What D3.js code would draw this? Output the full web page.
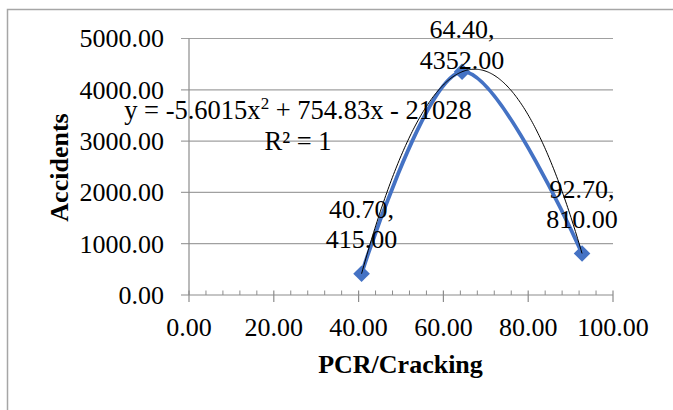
<!DOCTYPE html>
<html><head><meta charset="utf-8">
<script src="https://cdn.jsdelivr.net/npm/d3@7"></script>
<style>html,body{margin:0;padding:0;background:#fff;overflow:hidden}svg{display:block}</style>
</head><body>
<svg id="c" width="673" height="410"></svg>
<script>
const pcr = [40.7, 64.4, 92.7];
const accidents = [415, 4352, 810];
const pointLabels = [["40.70,", "415.00"], ["64.40,", "4352.00"], ["92.70,", "810.00"]];
const xTicks = [0, 20, 40, 60, 80, 100];
const yTicks = [0, 1000, 2000, 3000, 4000, 5000];
const trendCoef = [-5.6015, 754.83, -21028]; // a, b, c
const eqText = ["y = -5.6015x", "2", " + 754.83x - 21028"];
const r2Text = "R² = 1";
const xTitle = "PCR/Cracking";
const yTitle = "Accidents";

const svg = d3.select("#c");
const FONT = "'Liberation Serif','Times New Roman',serif";
const x = d3.scaleLinear().domain([0, 100]).range([189, 613]);
const y = d3.scaleLinear().domain([0, 5000]).range([295, 38.5]);
const blue = "#4472C4";

// outer chart frame
svg.append("rect").attr("x", 7.5).attr("y", 9.5).attr("width", 700).attr("height", 450)
  .attr("fill", "none").attr("stroke", "#a6a6a6").attr("stroke-width", 1.5);

// gridlines (with y-axis outside ticks)
svg.append("g").selectAll("line").data(yTicks.filter(d => d > 0)).join("line")
  .attr("x1", 181).attr("x2", x(100)).attr("y1", d => y(d)).attr("y2", d => y(d))
  .attr("stroke", "#a0a0a0").attr("stroke-width", 1.2);

// y axis line
svg.append("line").attr("x1", x(0)).attr("x2", x(0)).attr("y1", y(5000)).attr("y2", y(0))
  .attr("stroke", "#8c8c8c").attr("stroke-width", 1.2);

// x axis line
svg.append("line").attr("x1", 181).attr("x2", x(100)).attr("y1", y(0)).attr("y2", y(0))
  .attr("stroke", "#8c8c8c").attr("stroke-width", 1.2);

// x minor ticks (every 4)
const minor = d3.range(0, 101, 4).filter(v => v % 20 !== 0);
svg.append("g").selectAll("line").data(minor).join("line")
  .attr("x1", d => x(d)).attr("x2", d => x(d)).attr("y1", y(0) - 4.5).attr("y2", y(0))
  .attr("stroke", "#8c8c8c").attr("stroke-width", 1);
// x major ticks (cross)
svg.append("g").selectAll("line").data(xTicks).join("line")
  .attr("x1", d => x(d)).attr("x2", d => x(d)).attr("y1", y(0) - 4.5).attr("y2", y(0) + 7)
  .attr("stroke", "#8c8c8c").attr("stroke-width", 1.2);

// tick labels
svg.append("g").selectAll("text").data(yTicks).join("text")
  .attr("x", 164).attr("y", d => y(d)).attr("dy", "0.34em").attr("text-anchor", "end")
  .attr("font-family", FONT).attr("font-size", 26).attr("fill", "#000")
  .text(d => d.toFixed(2));
svg.append("g").selectAll("text").data(xTicks).join("text")
  .attr("x", d => x(d)).attr("y", 336).attr("text-anchor", "middle")
  .attr("font-family", FONT).attr("font-size", 26).attr("fill", "#000")
  .text(d => d.toFixed(2));

// axis titles
svg.append("text").attr("transform", "translate(68,167.5) rotate(-90)")
  .attr("text-anchor", "middle").attr("font-family", FONT).attr("font-size", 26)
  .attr("font-weight", "bold").text(yTitle);
svg.append("text").attr("x", 400.5).attr("y", 373)
  .attr("text-anchor", "middle").attr("font-family", FONT).attr("font-size", 26)
  .attr("font-weight", "bold").text(xTitle);

// series smooth line
const pts = pcr.map((v, i) => [v, accidents[i]]);
svg.append("path").datum(pts)
  .attr("d", d3.line().x(d => x(d[0])).y(d => y(d[1])).curve(d3.curveCardinal.tension(0)))
  .attr("fill", "none").attr("stroke", blue).attr("stroke-width", 3.8).attr("stroke-linecap", "round");

// diamond markers
svg.append("g").selectAll("path").data(pts).join("path")
  .attr("transform", d => `translate(${x(d[0])},${y(d[1])})`)
  .attr("d", "M0,-8.3L8.3,0L0,8.3L-8.3,0Z").attr("fill", blue);

// polynomial trendline
const [a, b, c] = trendCoef;
const x0 = d3.min(pcr), x1 = d3.max(pcr);
const tpts = d3.range(0, 201).map(i => { const xv = x0 + (x1 - x0) * i / 200; return [xv, a * xv * xv + b * xv + c]; });
svg.append("path").datum(tpts)
  .attr("d", d3.line().x(d => x(d[0])).y(d => y(d[1])))
  .attr("fill", "none").attr("stroke", "#000").attr("stroke-width", 1);

// equation
const eq = svg.append("text").attr("x", 298).attr("y", 119).attr("text-anchor", "middle")
  .attr("font-family", FONT).attr("font-size", 26.5);
eq.append("tspan").text(eqText[0]);
eq.append("tspan").attr("font-size", 17).attr("dy", -10).text(eqText[1]);
eq.append("tspan").attr("dy", 10).text(eqText[2]);
svg.append("text").attr("x", 298).attr("y", 150).attr("text-anchor", "middle")
  .attr("font-family", FONT).attr("font-size", 26.5).text(r2Text);

// data labels
const labelBase = [[218, 248], [38, 69], [198, 228]];
pointLabels.forEach((lines, i) => {
  lines.forEach((t, j) => {
    svg.append("text").attr("x", x(pcr[i])).attr("y", labelBase[i][j])
      .attr("text-anchor", "middle").attr("font-family", FONT).attr("font-size", 26)
      .text(t);
  });
});
</script>
</body></html>
